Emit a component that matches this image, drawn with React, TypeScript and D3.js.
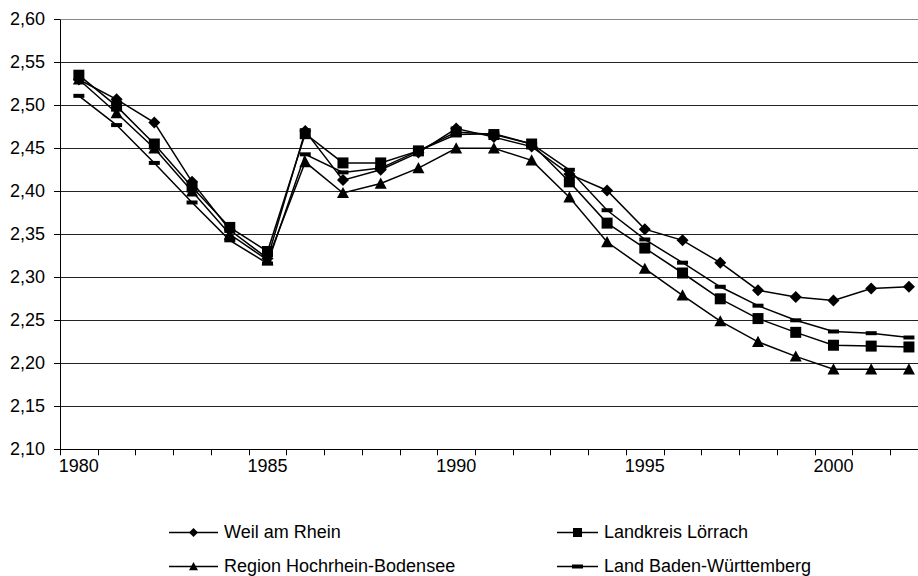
import React from "react";
import * as d3 from "d3";

const years = [
  1980, 1981, 1982, 1983, 1984, 1985, 1986, 1987, 1988, 1989, 1990, 1991,
  1992, 1993, 1994, 1995, 1996, 1997, 1998, 1999, 2000, 2001, 2002,
];

const weilAmRhein = [
  2.53, 2.507, 2.48, 2.411, 2.355, 2.322, 2.47, 2.413, 2.425, 2.445, 2.473,
  2.463, 2.452, 2.42, 2.401, 2.356, 2.343, 2.317, 2.285, 2.277, 2.273, 2.287,
  2.289,
];
const landkreisLoerrach = [
  2.535, 2.499, 2.455, 2.405, 2.358, 2.33, 2.467, 2.433, 2.433, 2.447, 2.469,
  2.466, 2.455, 2.411, 2.363, 2.334, 2.305, 2.275, 2.252, 2.236, 2.221, 2.22,
  2.219,
];
const regionHochrhein = [
  2.53, 2.491, 2.45, 2.4, 2.35, 2.32, 2.434, 2.398, 2.409, 2.427, 2.45, 2.45,
  2.436, 2.393, 2.341, 2.31, 2.279, 2.249, 2.225, 2.208, 2.193, 2.193, 2.193,
];
const landBW = [
  2.511, 2.477, 2.433, 2.387, 2.343, 2.316, 2.443, 2.422, 2.427, 2.447, 2.466,
  2.467, 2.455, 2.425, 2.378, 2.344, 2.317, 2.289, 2.267, 2.25, 2.237, 2.235,
  2.23,
];

const yTicks = [2.1, 2.15, 2.2, 2.25, 2.3, 2.35, 2.4, 2.45, 2.5, 2.55, 2.6];
const xLabels = [1980, 1985, 1990, 1995, 2000];

type Marker = "diamond" | "square" | "triangle" | "dash";

const seriesList: { name: string; values: number[]; marker: Marker }[] = [
  { name: "Weil am Rhein", values: weilAmRhein, marker: "diamond" },
  { name: "Landkreis Lörrach", values: landkreisLoerrach, marker: "square" },
  { name: "Region Hochrhein-Bodensee", values: regionHochrhein, marker: "triangle" },
  { name: "Land Baden-Württemberg", values: landBW, marker: "dash" },
];

const FONT = "'Liberation Sans', Arial, sans-serif";

function markerPath(kind: Marker, s: number): string {
  const h = s / 2;
  switch (kind) {
    case "diamond":
      return `M0,${-h}L${h},0L0,${h}L${-h},0Z`;
    case "square":
      return `M${-h},${-h}H${h}V${h}H${-h}Z`;
    case "triangle":
      return `M0,${-h}L${h},${h * 0.85}L${-h},${h * 0.85}Z`;
    case "dash":
      return `M${-h},-2H${h}V2H${-h}Z`;
  }
}

const markerSize: Record<Marker, number> = {
  diamond: 12,
  square: 11,
  triangle: 12,
  dash: 11,
};

export default function App() {
  const width = 918;
  const height = 576;
  const left = 60;
  const step = 37.73;
  const top = 19.3;
  const bottom = 449.3;

  const x = d3
    .scaleBand<number>()
    .domain(years)
    .range([left, left + step * years.length])
    .padding(0);
  const y = d3.scaleLinear().domain([2.1, 2.6]).range([bottom, top]);
  const cx = (yr: number) => (x(yr) as number) + x.bandwidth() / 2;

  const line = d3
    .line<number>()
    .x((_, i) => cx(years[i]))
    .y((v) => y(v));

  const right = left + step * years.length;
  const crisp = (v: number) => Math.round(v) + 0.5;

  // legend rows: baseline of the text, swatch line sits a little above it
  const legendItems = [
    { s: seriesList[0], lx: 169, tx: 224, base: 538 },
    { s: seriesList[1], lx: 557, tx: 604, base: 538 },
    { s: seriesList[2], lx: 169, tx: 224, base: 572 },
    { s: seriesList[3], lx: 557, tx: 604, base: 572 },
  ];

  return (
    <svg
      width={width}
      height={height}
      style={{ position: "absolute", left: 0, top: 0, background: "#fff" }}
      fontFamily={FONT}
    >
      <rect x={0} y={0} width={width} height={height} fill="#fff" />
      {/* horizontal gridlines */}
      {yTicks.slice(1).map((t) => (
        <line
          key={`g${t}`}
          x1={left}
          x2={right}
          y1={crisp(y(t))}
          y2={crisp(y(t))}
          stroke={t === 2.6 ? "#888" : "#222"}
          strokeWidth={1}
        />
      ))}
      {/* y axis */}
      <line x1={crisp(left)} x2={crisp(left)} y1={crisp(top)} y2={crisp(bottom)} stroke="#000" />
      {yTicks.map((t) => (
        <g key={`yt${t}`}>
          <line x1={54} x2={left} y1={crisp(y(t))} y2={crisp(y(t))} stroke="#000" />
          <text
            x={45}
            y={y(t)}
            textAnchor="end"
            dominantBaseline="central"
            fontSize={18}
            fill="#000"
          >
            {t.toFixed(2).replace(".", ",")}
          </text>
        </g>
      ))}
      {/* x axis */}
      <line x1={left} x2={right} y1={crisp(bottom)} y2={crisp(bottom)} stroke="#000" />
      {years.concat([years[years.length - 1] + 1]).map((yr, i) => {
        const px = crisp(left + i * x.bandwidth());
        return (
          <line key={`xt${yr}`} x1={px} x2={px} y1={crisp(bottom)} y2={bottom + 6} stroke="#000" />
        );
      })}
      {xLabels.map((yr) => (
        <text
          key={`xl${yr}`}
          x={cx(yr)}
          y={472}
          textAnchor="middle"
          fontSize={18}
          fill="#000"
        >
          {yr}
        </text>
      ))}
      {/* series */}
      {seriesList.map((s) => (
        <g key={s.name}>
          <path d={line(s.values) || ""} fill="none" stroke="#000" strokeWidth={1.5} />
          {s.values.map((v, i) => (
            <path
              key={i}
              transform={`translate(${cx(years[i])},${y(v)})`}
              d={markerPath(s.marker, markerSize[s.marker])}
              fill="#000"
            />
          ))}
        </g>
      ))}
      {/* legend */}
      {legendItems.map(({ s, lx, tx, base }) => {
        const ly = base - 5.5;
        return (
          <g key={`lg${s.name}`}>
            <line x1={lx} x2={tx - 6} y1={ly} y2={ly} stroke="#000" strokeWidth={1.5} />
            <path
              transform={`translate(${(lx + tx - 6) / 2},${ly})`}
              d={markerPath(s.marker, s.marker === "dash" ? 11 : 9)}
              fill="#000"
            />
            <text x={tx} y={base} fontSize={18} fill="#000">
              {s.name}
            </text>
          </g>
        );
      })}
    </svg>
  );
}
